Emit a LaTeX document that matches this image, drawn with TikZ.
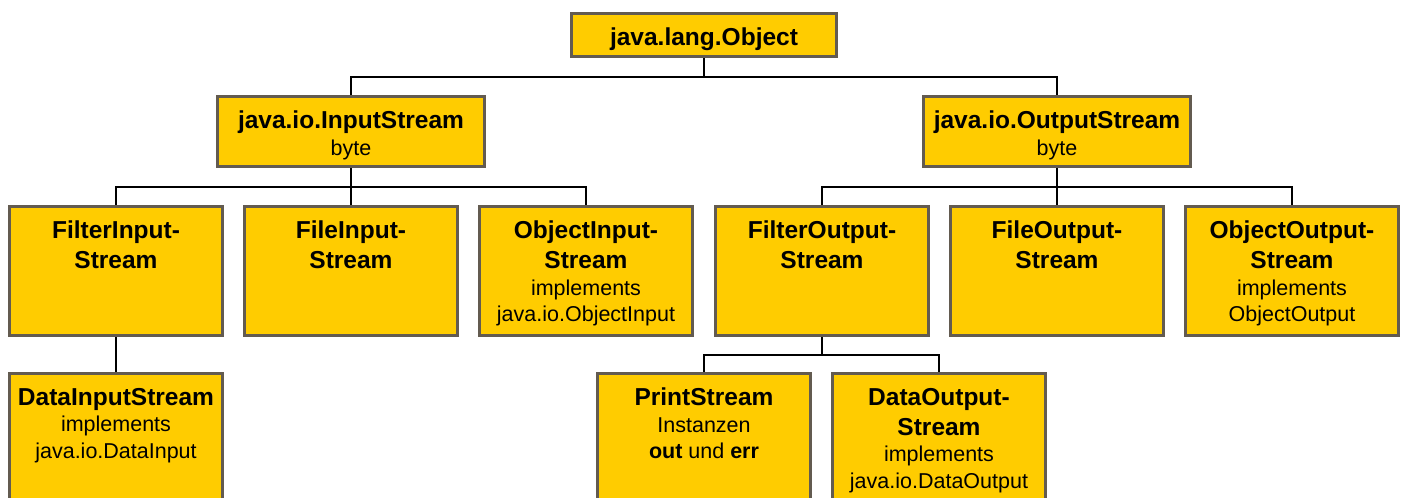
\documentclass[tikz,border=0pt]{standalone}
\usepackage{fontspec}
\setmainfont{Liberation Sans}
\usetikzlibrary{backgrounds}
\definecolor{gelb}{HTML}{FFCC00}
\definecolor{rand}{RGB}{99,91,80}

% box text: fixed size, lines start at the top
\newcommand{\kasten}[3]{\parbox[t][#2][t]{#1}{\centering\vspace*{7.5pt}#3}}
\newcommand{\titel}[1]{{\fontsize{12.25}{15}\selectfont\bfseries #1\par}}
\newcommand{\zusatz}[1]{{\fontsize{10.75}{13.25}\selectfont #1\par}}

\begin{document}
\begin{tikzpicture}[x=0.5pt,y=-0.5pt,
    klasse/.style={draw=rand,fill=gelb,line width=1.5pt,inner sep=0pt,anchor=north},
    ast/.style={line width=0.75pt}]
  \useasboundingbox (0,0) rectangle (1404,498);
  \clip (0,0) rectangle (1404,498);

  \node[klasse] (objekt) at (704,11.5) {\kasten{132.5pt}{21.5pt}{\titel{java.lang.Object}}};

  \node[klasse] (ein) at (351,94.5) {\kasten{133.5pt}{35pt}{\titel{java.io.InputStream}\zusatz{byte}}};
  \node[klasse] (aus) at (1057,94.5) {\kasten{133.5pt}{35pt}{\titel{java.io.OutputStream}\zusatz{byte}}};

  \node[klasse] (filterein) at (116,204.5) {\kasten{106.5pt}{64.5pt}{\titel{FilterInput-\\Stream}}};
  \node[klasse] (fileein) at (351,204.5) {\kasten{106.5pt}{64.5pt}{\titel{FileInput-\\Stream}}};
  \node[klasse] (objektein) at (586,204.5) {\kasten{106.5pt}{64.5pt}{\titel{ObjectInput-\\Stream}\zusatz{implements\\java.io.ObjectInput}}};
  \node[klasse] (filteraus) at (822,204.5) {\kasten{106.5pt}{64.5pt}{\titel{FilterOutput-\\Stream}}};
  \node[klasse] (fileaus) at (1057,204.5) {\kasten{106.5pt}{64.5pt}{\titel{FileOutput-\\Stream}}};
  \node[klasse] (objektaus) at (1292,204.5) {\kasten{106.5pt}{64.5pt}{\titel{ObjectOutput-\\Stream}\zusatz{implements\\ObjectOutput}}};

  \node[klasse] (datenein) at (116,371.5) {\kasten{106.5pt}{80pt}{\titel{DataInputStream}\zusatz{implements\\java.io.DataInput}}};
  \node[klasse] (print) at (704,371.5) {\kasten{106.5pt}{80pt}{\titel{PrintStream}\zusatz{Instanzen\\\textbf{out} und \textbf{err}}}};
  \node[klasse] (datenaus) at (939,371.5) {\kasten{106.5pt}{80pt}{\titel{DataOutput-\\Stream}\zusatz{implements\\java.io.DataOutput}}};

  % tree lines behind the boxes
  \begin{pgfonlayer}{background}
  \foreach \k in {ein,aus}
    \draw[ast] (objekt.south) -- ++(0,19.5) -| (\k.north);
  \foreach \k in {filterein,fileein,objektein}
    \draw[ast] (ein.south) -- ++(0,19.5) -| (\k.north);
  \foreach \k in {filteraus,fileaus,objektaus}
    \draw[ast] (aus.south) -- ++(0,19.5) -| (\k.north);
  \draw[ast] (filterein.south) -- (datenein.north);
  \foreach \k in {print,datenaus}
    \draw[ast] (filteraus.south) -- ++(0,18.5) -| (\k.north);
  \end{pgfonlayer}
\end{tikzpicture}
\end{document}
